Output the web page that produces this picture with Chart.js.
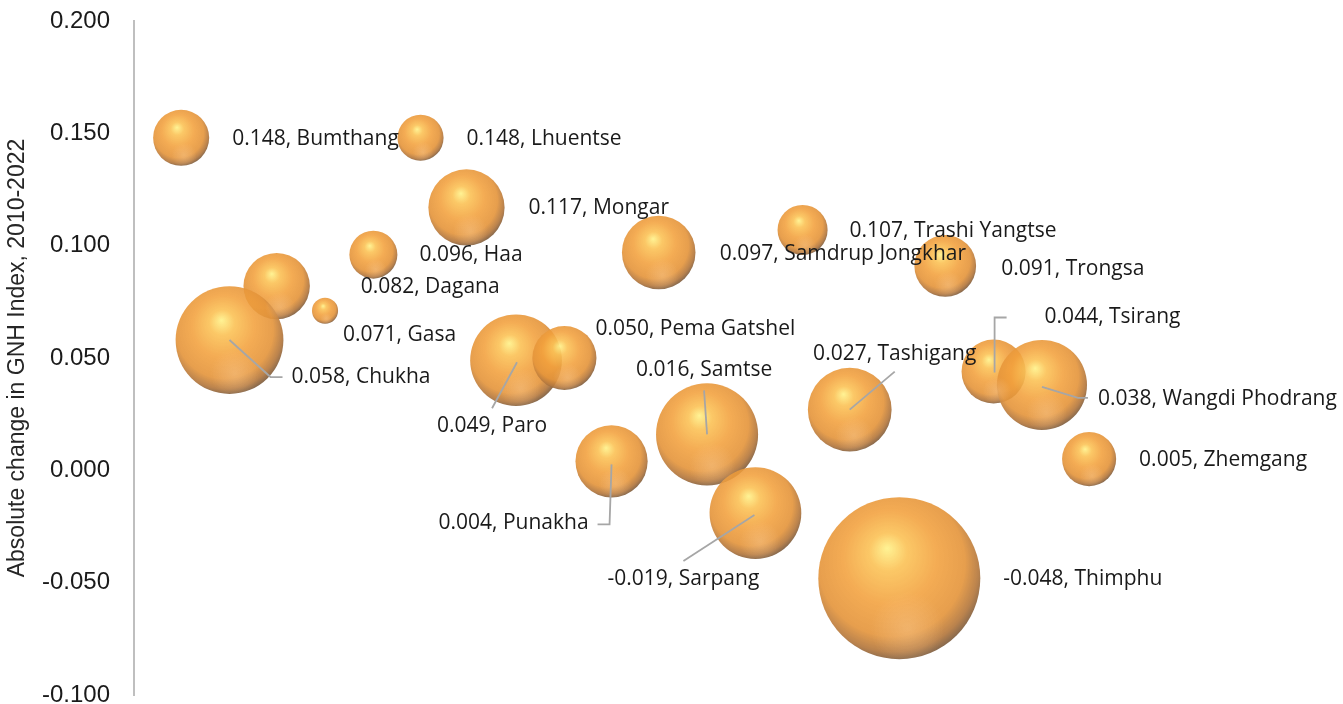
<!DOCTYPE html>
<html>
<head>
<meta charset="utf-8">
<script src="https://cdn.jsdelivr.net/npm/chart.js@4.4.0/dist/chart.umd.min.js"></script>
<style>
  html, body { margin: 0; padding: 0; background: #ffffff; overflow: hidden; }
  canvas { display: block; }
</style>
</head>
<body>
<canvas id="gnhChart" width="1343" height="704" style="width:1343px;height:704px"></canvas>
<script>
// District names and their absolute change in GNH Index (2010-2022)
const districts = ['Bumthang', 'Lhuentse', 'Mongar', 'Haa', 'Dagana', 'Gasa', 'Chukha', 'Paro',
    'Pema Gatshel', 'Samdrup Jongkhar', 'Trashi Yangtse', 'Trongsa', 'Tashigang', 'Tsirang',
    'Wangdi Phodrang', 'Samtse', 'Punakha', 'Sarpang', 'Thimphu', 'Zhemgang'];
const gnhChange = [0.148, 0.148, 0.117, 0.096, 0.082, 0.071, 0.058, 0.049,
    0.050, 0.097, 0.107, 0.091, 0.027, 0.044,
    0.038, 0.016, 0.004, -0.019, -0.048, 0.005];
// horizontal placement (the x axis is not shown in the original)
const xPlacement = [3.9, 23.7, 27.5, 19.8, 11.8, 15.8, 7.9, 31.6,
    35.6, 43.4, 55.3, 67.1, 59.2, 71.1,
    75.1, 47.4, 39.5, 51.4, 63.3, 79.0];
// bubble size (area-proportional, e.g. population in thousands)
const bubbleSize = [15.7, 10.6, 29, 11.5, 22, 3.4, 58, 42,
    20.5, 27, 12.5, 19, 35, 20.5,
    40.5, 52, 26, 42, 131, 14.6];
const yTickValues = [-0.1, -0.05, 0, 0.05, 0.1, 0.15, 0.2];

const maxBubbleRadius = 81;
const maxSize = Math.max(...bubbleSize);

// label placement relative to the bubble centre (pixels)
const labelPlacement = {
    'Chukha': { dx: 62, dy: 37, align: 'left', leader: [[0, 0], [41, 37], [53, 37]] },
    'Paro': { dx: -24, dy: 66, align: 'center', leader: [[1, 2], [-24, 48]] },
    'Samtse': { dx: -3, dy: -64, align: 'center', leader: [[0, 0], [-3, -44]] },
    'Tashigang': { dx: 45, dy: -56, align: 'center', leader: [[0, 0], [45, -38]] },
    'Tsirang': { dx: 51, dy: -54, align: 'left', leader: [[1, 1], [1, -54], [13, -54]] },
    'Wangdi Phodrang': { dx: 56, dy: 14, align: 'left', leader: [[0, 2], [36, 13], [46, 13]] },
    'Punakha': { dx: -23, dy: 62, align: 'right', leader: [[0, 3], [-2, 63], [-14, 63]] },
    'Sarpang': { dx: -72, dy: 66, align: 'center', leader: [[-1, 2], [-72, 48]] },
    'Bumthang': { dx: 51, dy: 1, align: 'left' },
    'Lhuentse': { dx: 46, dy: 1, align: 'left' },
    'Mongar': { dx: 62, dy: 1, align: 'left' },
    'Haa': { dx: 46, dy: 0, align: 'left' },
    'Dagana': { dx: 84, dy: 1, align: 'left' },
    'Gasa': { dx: 18, dy: 24, align: 'left' },
    'Pema Gatshel': { dx: 31, dy: -29, align: 'left' },
    'Samdrup Jongkhar': { dx: 61, dy: 2, align: 'left' },
    'Trashi Yangtse': { dx: 47, dy: 1, align: 'left' },
    'Trongsa': { dx: 56, dy: 3, align: 'left' },
    'Thimphu': { dx: 104, dy: 1, align: 'left' },
    'Zhemgang': { dx: 50, dy: 1, align: 'left' }
};

const points = districts.map((d, i) => ({
    x: xPlacement[i],
    y: gnhChange[i],
    r: maxBubbleRadius * Math.sqrt(bubbleSize[i] / maxSize),
    name: d
}));

// sphere-like shading for each bubble (light from the upper left)
function sphereFill(context) {
    const chart = context.chart;
    const raw = context.raw;
    const fallback = 'rgba(242,162,62,0.9)';
    if (!raw || !chart.scales || !chart.scales.x || !chart.scales.y) return fallback;
    const cx = chart.scales.x.getPixelForValue(raw.x);
    const cy = chart.scales.y.getPixelForValue(raw.y);
    const r = raw.r;
    if (![cx, cy, r].every(Number.isFinite)) return fallback;
    const g = chart.ctx.createRadialGradient(cx - 0.15 * r, cy - 0.37 * r, 0,
        cx - 0.08 * r, cy - 0.14 * r, 1.16 * r);
    g.addColorStop(0, 'rgba(255,242,140,0.93)');
    g.addColorStop(0.2, 'rgba(251,194,86,0.9)');
    g.addColorStop(0.5, 'rgba(242,160,60,0.88)');
    g.addColorStop(0.78, 'rgba(228,148,58,0.9)');
    g.addColorStop(0.92, 'rgba(180,120,62,0.92)');
    g.addColorStop(1, 'rgba(125,92,62,0.92)');
    return g;
}

// faint reflection near the bottom of each sphere
const reflectionPlugin = {
    id: 'sphereReflection',
    afterDatasetsDraw(chart) {
        const ctx = chart.ctx;
        ctx.save();
        chart.getDatasetMeta(0).data.forEach((el, i) => {
            const r = points[i].r;
            ctx.save();
            ctx.beginPath();
            ctx.arc(el.x, el.y, r, 0, Math.PI * 2);
            ctx.clip();
            const g = ctx.createRadialGradient(el.x + 0.1 * r, el.y + 0.62 * r, 0, el.x + 0.1 * r, el.y + 0.62 * r, 0.45 * r);
            g.addColorStop(0, 'rgba(255,212,160,0.35)');
            g.addColorStop(1, 'rgba(255,212,160,0)');
            ctx.fillStyle = g;
            ctx.fillRect(el.x - r, el.y - r, 2 * r, 2 * r);
            ctx.restore();
        });
        ctx.restore();
    }
};

const labelPlugin = {
    id: 'districtLabels',
    afterDatasetsDraw(chart) {
        const ctx = chart.ctx;
        const meta = chart.getDatasetMeta(0);
        ctx.save();
        meta.data.forEach((el, i) => {
            const name = districts[i];
            const p = labelPlacement[name];
            if (p.leader) {
                ctx.beginPath();
                ctx.strokeStyle = '#a6a6a6';
                ctx.lineWidth = 1.8;
                p.leader.forEach((pt, k) => {
                    if (k === 0) ctx.moveTo(el.x + pt[0], el.y + pt[1]);
                    else ctx.lineTo(el.x + pt[0], el.y + pt[1]);
                });
                ctx.stroke();
            }
            ctx.fillStyle = '#1a1a1a';
            ctx.font = '21px "Open Sans", sans-serif';
            ctx.textAlign = p.align;
            ctx.textBaseline = 'middle';
            ctx.fillText(gnhChange[i].toFixed(3) + ', ' + name, el.x + p.dx, el.y + p.dy);
        });
        ctx.restore();
    }
};

new Chart(document.getElementById('gnhChart').getContext('2d'), {
    type: 'bubble',
    data: {
        datasets: [{
            label: 'GNH change',
            data: points,
            backgroundColor: sphereFill,
            borderWidth: 0,
            hoverBorderWidth: 0,
            clip: false
        }]
    },
    options: {
        responsive: false,
        animation: false,
        events: [],
        layout: { autoPadding: false, padding: { top: 21, bottom: 9, left: 0, right: 0 } },
        scales: {
            x: {
                type: 'linear',
                display: false,
                min: 0,
                max: 100
            },
            y: {
                min: -0.1,
                max: 0.2,
                afterBuildTicks: (axis) => { axis.ticks = yTickValues.map(v => ({ value: v })); },
                afterFit: (axis) => {
                    axis.width = 134;
                    axis.paddingTop = 0;
                    axis.paddingBottom = 0;
                },
                grid: { display: false, drawTicks: false },
                border: { display: true, color: '#bfbfbf', width: 2 },
                ticks: {
                    padding: 24,
                    color: '#1a1a1a',
                    font: { family: '"Liberation Sans", Arial, sans-serif', size: 24, lineHeight: 1 },
                    callback: (v) => Number(v).toFixed(3)
                },
                title: {
                    display: true,
                    text: 'Absolute change in GNH Index, 2010-2022',
                    color: '#262626',
                    font: { family: '"Liberation Sans", Arial, sans-serif', size: 23 },
                    padding: { top: 4, bottom: 0 }
                }
            }
        },
        plugins: {
            legend: { display: false },
            tooltip: { enabled: false }
        }
    },
    plugins: [reflectionPlugin, labelPlugin]
});
</script>
</body>
</html>
